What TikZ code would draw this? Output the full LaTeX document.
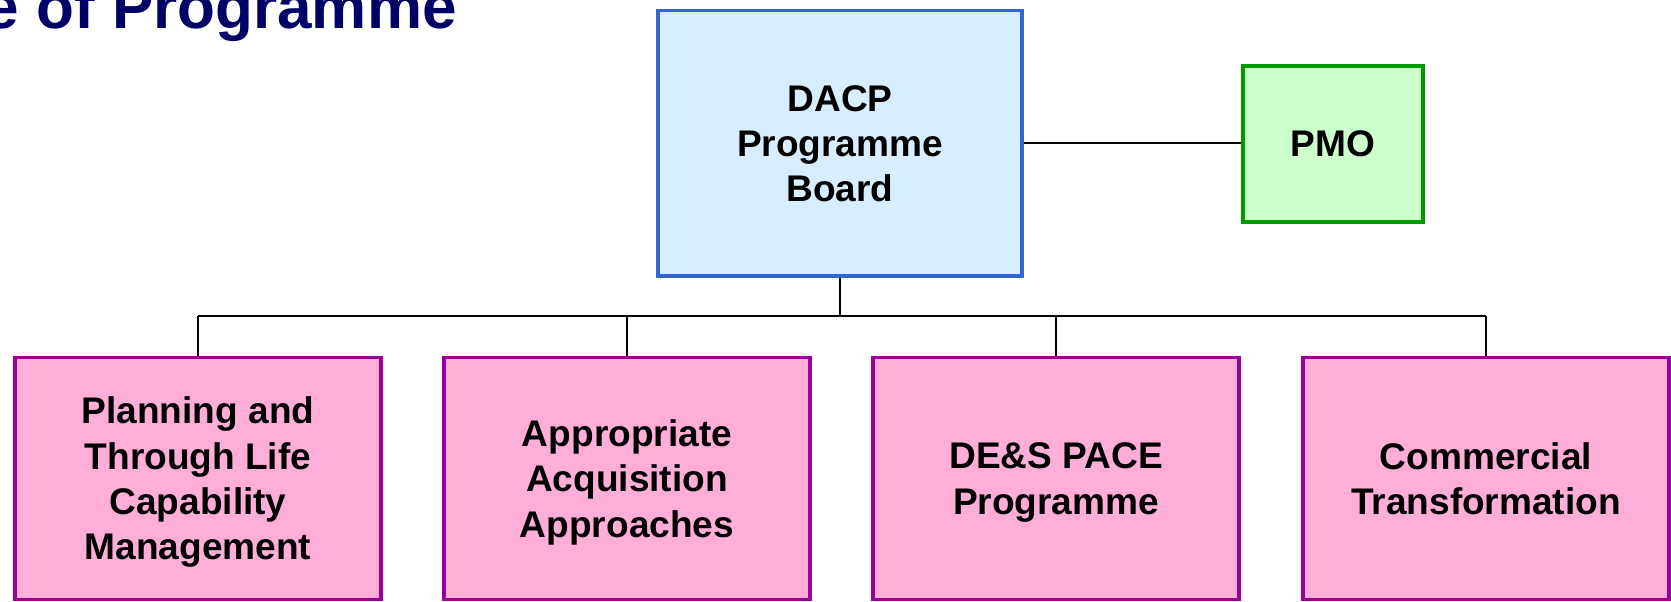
\documentclass[tikz,border=0pt]{standalone}
\usepackage{fontspec}
\setmainfont{Liberation Sans}
\usepackage{xcolor}

\begin{document}
\begin{tikzpicture}[x=0.75pt,y=0.75pt,yscale=-1,xscale=1,
  boxtext/.style={inner sep=0pt,align=center,text depth=-4pt,font=\bfseries\fontsize{27.8}{34}\selectfont},
  boardbox/.style={boxtext,draw={rgb, 255:red, 51; green, 102; blue, 204 },fill={rgb, 255:red, 214; green, 238; blue, 255 },line width=2.5pt,minimum width=273pt,minimum height=199pt},
  pmobox/.style={boxtext,draw={rgb, 255:red, 0; green, 153; blue, 0 },fill={rgb, 255:red, 204; green, 255; blue, 204 },line width=2.5pt,minimum width=135pt,minimum height=117pt},
  workbox/.style={boxtext,text depth=-8pt,draw={rgb, 255:red, 153; green, 0; blue, 153 },fill={rgb, 255:red, 255; green, 175; blue, 215 },line width=2.5pt,minimum width=274.5pt,minimum height=181.5pt},
  link/.style={line width=1.5pt}]
\useasboundingbox (0,0) rectangle (1671,602);
%Title
\draw (457,29) node [anchor=base east][inner sep=0pt]  [font=\bfseries\fontsize{46.5}{56}\selectfont,color={rgb, 255:red, 0; green, 0; blue, 102 }] (title) {e of Programme};
%Shape: Rectangle [board]
\draw (840,143.5) node [boardbox] (board) {DACP\\Programme\\Board};
%Shape: Rectangle [pmo]
\draw (1333,144) node [pmobox] (pmo) {PMO};
%Shape: Rectangle [workstreams]
\draw (198,478.5) node [workbox] (plan) {Planning and\\Through Life\\Capability\\Management};
\draw (627,478.5) node [workbox] (acq) {Appropriate\\Acquisition\\Approaches};
\draw (1056,478.5) node [workbox] (pace) {DE\&S PACE\\Programme};
\draw (1486,478.5) node [workbox] (comm) {Commercial\\Transformation};
%Straight Lines
\coordinate (bus) at (840,316);
\draw [link] (board.east) -- (board.east -| pmo.west);
\draw [link] (board.south) -- (bus);
\draw [link] (bus -| plan.north) -- (bus -| comm.north);
\draw [link] (plan.north) -- (plan.north |- bus);
\draw [link] (acq.north) -- (acq.north |- bus);
\draw [link] (pace.north) -- (pace.north |- bus);
\draw [link] (comm.north) -- (comm.north |- bus);
\end{tikzpicture}
\end{document}
